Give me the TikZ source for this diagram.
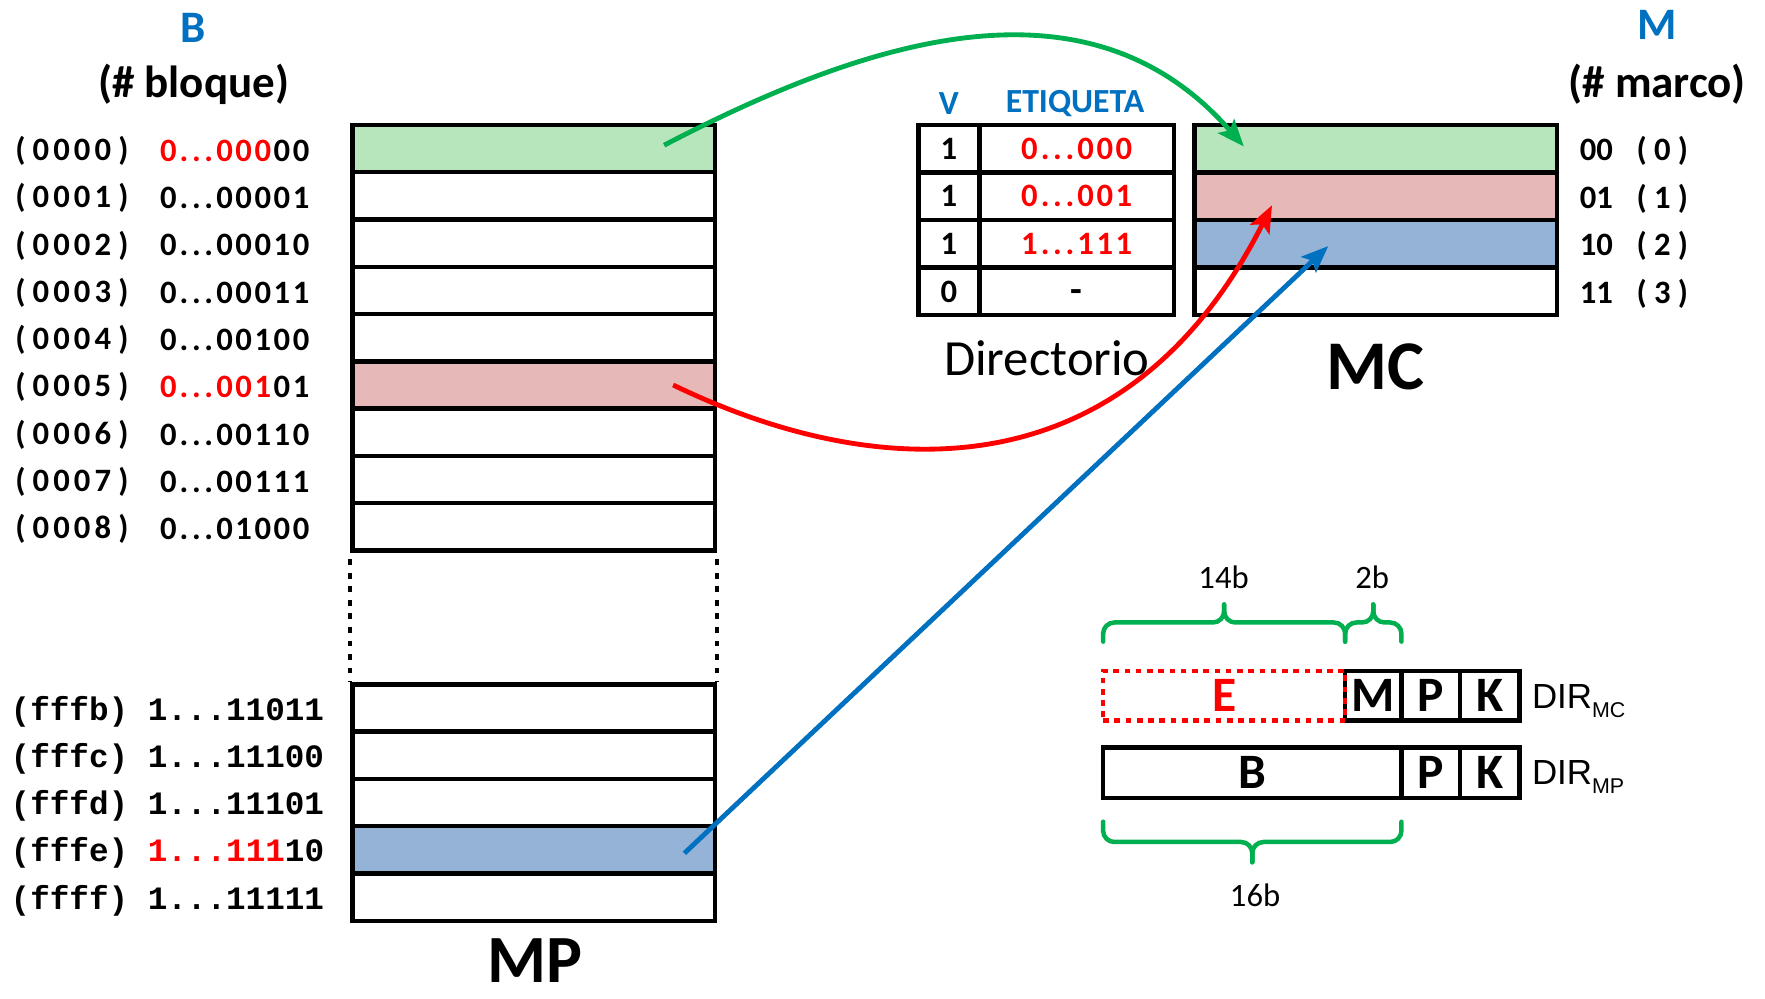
\documentclass[tikz,border=0pt]{standalone}
\usepackage{fontspec}
\setmainfont{Carlito}
\newfontfamily\monofont{Liberation Mono}
\newfontfamily\arialfont{Liberation Sans}
\usetikzlibrary{arrows.meta}

\definecolor{titleblue}{HTML}{0070C0}
\definecolor{linkgreen}{HTML}{00B050}
\definecolor{linkblue}{HTML}{0070C0}
\definecolor{fillgreen}{HTML}{B7E5BC}
\definecolor{fillpink}{HTML}{E6B8B7}
\definecolor{fillblue}{HTML}{95B3D7}

% characters set one per fixed-width cell (dots get narrower cells)
\newlength\cellw
\newlength\dotw
\def\cellrun#1{\cellstep#1\relax}
\def\cellstep#1{\ifx#1\relax\else\ifx#1.\makebox[\dotw]{.}\else\makebox[\cellw]{#1}\fi\expandafter\cellstep\fi}
\newcommand\padded[1]{{\setlength\cellw{18.3pt}\setlength\dotw{11pt}\cellrun{#1}}}
\newcommand\bits[1]{{\setlength\cellw{17pt}\setlength\dotw{11pt}\cellrun{#1}}}
\newcommand\setfs[1]{\fontsize{#1pt}{#1pt}\selectfont}

\begin{document}
\begin{tikzpicture}[x=1pt,y=-1pt,
  txt/.style={inner sep=0pt, outer sep=0pt},
  hdr/.style={txt, font=\bfseries\setfs{40}},
  colhdr/.style={txt, font=\bfseries\setfs{30}, text=titleblue},
  addr/.style={txt, anchor=west, font=\bfseries\setfs{29}},
  addrmono/.style={txt, anchor=west, font=\monofont\bfseries\setfs{29}},
  memrow/.style={draw, line width=4pt, minimum width=322pt, minimum height=42pt, inner sep=0pt},
  mcrow/.style={memrow, minimum height=42.25pt},
  dircell/.style={draw, line width=4pt, minimum height=42.25pt, inner sep=0pt, font=\bfseries\setfs{29}},
  field/.style={draw, line width=4pt, inner sep=0pt, minimum height=44pt, font=\bfseries\setfs{44}},
  link/.style={line width=4.3pt, -{Stealth[length=24pt,width=19pt,inset=5pt]}},
  bracepath/.style={draw=linkgreen, line width=4pt, rounded corners=10pt, line cap=round},
  ]
\useasboundingbox (0,0) rectangle (1568,887);
\fill[white] (0,0) rectangle (1568,887);

% ---------- main memory (MP) ----------
\foreach \i/\c in {0/fillgreen,1/white,2/white,3/white,4/white,5/fillpink,6/white,7/white,8/white}
  \node[memrow, fill=\c] (mp\i) at (474,{132+42*\i}) {};
\foreach \n/\yy/\c in {b/629/white,c/671/white,d/713/white,e/755/fillblue,f/797/white}
  \node[memrow, fill=\c] (mp\n) at (474,\yy) {};
\draw[line width=4pt, dash pattern=on 5pt off 7pt] ([yshift=-6pt]mp8.south west) -- (mpb.north west);
\draw[line width=4pt, dash pattern=on 5pt off 7pt] ([yshift=-6pt]mp8.south east) -- (mpb.north east);

\node[hdr, text=titleblue] (hB) at (172,25) {B};
\node[hdr] (hBq) at (172,75) {(\# bloque)};
\node[txt, font=\bfseries\setfs{60}] (mpl) at (475,853) {MP};

% block numbers
\node[addr] (la0) at (9,134) {\padded{(0000)}};
\node[addr] (lb0) at (141,134) {{\color{red}\bits{0...000}}\bits{00}};
\node[addr] (la1) at (9,176) {\padded{(0001)}};
\node[addr] (lb1) at (141,176) {\bits{0...00001}};
\node[addr] (la2) at (9,218) {\padded{(0002)}};
\node[addr] (lb2) at (141,218) {\bits{0...00010}};
\node[addr] (la3) at (9,260) {\padded{(0003)}};
\node[addr] (lb3) at (141,260) {\bits{0...00011}};
\node[addr] (la4) at (9,302) {\padded{(0004)}};
\node[addr] (lb4) at (141,302) {\bits{0...00100}};
\node[addr] (la5) at (9,344) {\padded{(0005)}};
\node[addr] (lb5) at (141,344) {{\color{red}\bits{0...001}}\bits{01}};
\node[addr] (la6) at (9,386) {\padded{(0006)}};
\node[addr] (lb6) at (141,386) {\bits{0...00110}};
\node[addr] (la7) at (9,428) {\padded{(0007)}};
\node[addr] (lb7) at (141,428) {\bits{0...00111}};
\node[addr] (la8) at (9,470) {\padded{(0008)}};
\node[addr] (lb8) at (141,470) {\bits{0...01000}};

\node[addrmono] (lfb) at (9.5,632) {(fffb) 1...11011};
\node[addrmono] (lfc) at (9.5,674) {(fffc) 1...11100};
\node[addrmono] (lfd) at (9.5,716) {(fffd) 1...11101};
\node[addrmono] (lfe) at (9.5,758) {(fffe) {\color{red}1...111}10};
\node[addrmono] (lff) at (9.5,800) {(ffff) 1...11111};

% ---------- directory ----------
\node[colhdr] (hV) at (843,92) {V};
\node[colhdr] (hE) at (955,92) {ETIQUETA};
\foreach \i/\v/\t in {0/1/{\color{red}\bits{0...000}},1/1/{\color{red}\bits{0...001}},2/1/{\color{red}\bits{1...111}},3/0/{\raisebox{-10pt}[0pt][0pt]{\setfs{34}-}}}{
  \node[dircell, minimum width=54pt] (dv\i) at (843,{132.125+42.25*\i}) {\v};
  \node[dircell, minimum width=173pt] (dt\i) at (956.5,{132.125+42.25*\i}) {\t};
}
\node[txt, font=\setfs{45}] (dirl) at (930,318) {Directorio};

% ---------- cache memory (MC) ----------
\foreach \i/\c in {0/fillgreen,1/fillpink,2/fillblue,3/white}
  \node[mcrow, fill=\c] (mc\i) at (1222,{132.125+42.25*\i}) {};
\node[txt, font=\bfseries\setfs{62}] (mcl) at (1222,326) {MC};
\node[hdr, text=titleblue] (hM) at (1472,22) {M};
\node[hdr] (hMq) at (1472,75) {(\# marco)};
\foreach \i/\b/\d in {0/00/0,1/01/1,2/10/2,3/11/3}
  \node[addr] (fr\i) at (1409,{134+42.25*\i}) {\padded{\b}\hspace{22pt}\padded{(\d)}};

% ---------- address formats ----------
\node[field, minimum width=50pt] (fM) at (1220,618) {M};
\node[field, minimum width=52pt] (fP) at (1271,618) {P};
\node[field, minimum width=53pt] (fK) at (1323.5,618) {K};
\node[field, draw=red, dash pattern=on 5pt off 5pt, minimum width=215pt, text=red] (fE) at (1087.5,618) {E};
\node[field, minimum width=265pt, minimum height=45pt] (fB) at (1112.5,686.5) {B};
\node[field, minimum width=52pt, minimum height=45pt] (fP2) at (1271,686.5) {P};
\node[field, minimum width=53pt, minimum height=45pt] (fK2) at (1323.5,686.5) {K};
\node[txt, anchor=base west, font=\arialfont\setfs{31}] (dirmc) at (1361,629) {DIR\raisebox{-8pt}{\setfs{19}MC}};
\node[txt, anchor=base west, font=\arialfont\setfs{31}] (dirmp) at (1361,697) {DIR\raisebox{-8pt}{\setfs{19}MP}};

% braces and bit widths
\path[bracepath] (980,570) -- (980,553) -- (1087.5,553) -- (1087.5,537);
\path[bracepath] (1195,570) -- (1195,553) -- (1087.5,553) -- (1087.5,537);
\path[bracepath] (1195,570) -- (1195,553) -- (1220,553) -- (1220,537);
\path[bracepath] (1245,570) -- (1245,553) -- (1220,553) -- (1220,537);
\path[bracepath] (980,730) -- (980,748) -- (1112.5,748) -- (1112.5,766);
\path[bracepath] (1245,730) -- (1245,748) -- (1112.5,748) -- (1112.5,766);
\node[txt, font=\setfs{29}] (b14) at (1087,513) {14b};
\node[txt, font=\setfs{29}] (b2) at (1219,513) {2b};
\node[txt, font=\setfs{29}] (b16) at (1115,795) {16b};

% ---------- placement links ----------
\draw[link, color=linkgreen] ([xshift=116pt,yshift=3pt]mp0.center) .. controls (780,30) and (970,-25) .. ([xshift=-117pt,yshift=2pt]mc0.center);
\draw[link, color=red] ([xshift=124pt]mp5.center) .. controls (780,430) and (1000,440) .. ([xshift=-92pt,yshift=-8pt]mc1.center);
\draw[link, color=linkblue] ([xshift=134pt,yshift=-3pt]mpe.center) -- ([xshift=-42pt,yshift=-2pt]mc2.center);
\end{tikzpicture}
\end{document}
